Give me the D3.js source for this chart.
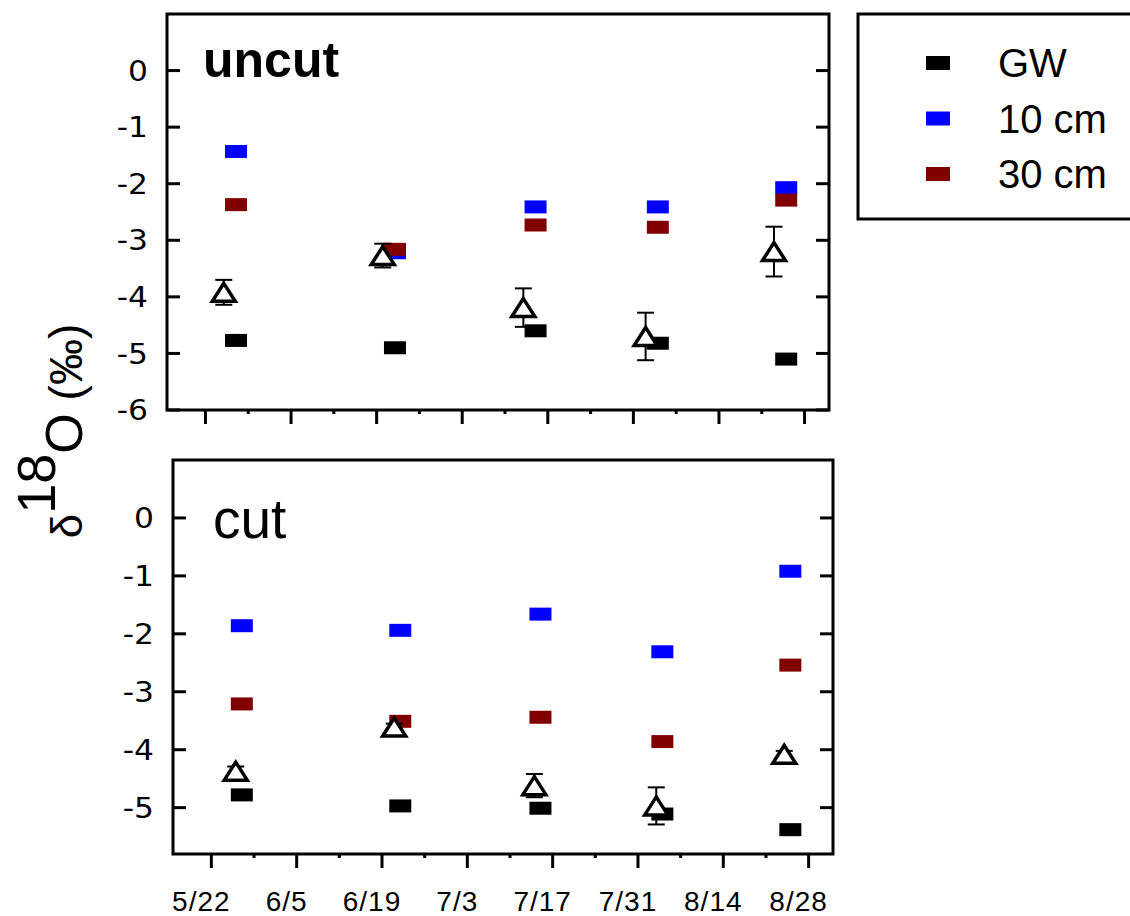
<!DOCTYPE html>
<html>
<head>
<meta charset="utf-8">
<script src="https://cdn.jsdelivr.net/npm/d3@7/dist/d3.min.js"></script>
<style>
    body { margin: 0; background: #fff; }
    svg { display: block; font-family: "Liberation Sans", Arial, sans-serif; }
</style>
</head>
<body>
<div id="viz"></div>
<script>
// sampling dates (squares = GW / soil water, triangles = plant water)
const squareDates = ["2000-05-27", "2000-06-22", "2000-07-15", "2000-08-04", "2000-08-25"];
const uncutTriDates = ["2000-05-25", "2000-06-20", "2000-07-13", "2000-08-02", "2000-08-23"];
const cutTriDates = ["2000-05-26", "2000-06-21", "2000-07-14", "2000-08-03", "2000-08-24"];

// uncut plot
const uncutGW = [-4.77, -4.90, -4.60, -4.82, -5.10];
const uncut10 = [-1.43, -3.22, -2.41, -2.41, -2.07];
const uncut30 = [-2.37, -3.16, -2.73, -2.77, -2.29];
const uncutTri = [-3.92, -3.27, -4.19, -4.70, -3.20];
const uncutTriErr = [0.22, 0.21, 0.34, 0.42, 0.44];

// cut plot
const cutGW = [-4.78, -4.97, -5.01, -5.11, -5.38];
const cut10 = [-1.86, -1.94, -1.66, -2.31, -0.92];
const cut30 = [-3.21, -3.51, -3.44, -3.86, -2.54];
const cutTri = [-4.37, -3.61, -4.62, -4.97, -4.08];
const cutTriErr = [0.08, 0.06, 0.20, 0.32, 0.06];

const yTicks = [-6, -5, -4, -3, -2, -1, 0];
const xTickDates = ["2000-05-22", "2000-06-05", "2000-06-19", "2000-07-03", "2000-07-17", "2000-07-31", "2000-08-14", "2000-08-28"];
const xTickLabels = ["5/22", "6/5", "6/19", "7/3", "7/17", "7/31", "8/14", "8/28"];
const seriesNames = ["GW", "10 cm", "30 cm"];
const seriesColors = ["#000000", "#0000ff", "#800000"];

document.addEventListener("DOMContentLoaded", () => {
    const width = 1130;
    const height = 916;
    const parse = d3.timeParse("%Y-%m-%d");

    const svg = d3.select('#viz').append('svg')
        .attr('width', width)
        .attr('height', height);

    const xTicks = xTickDates.map(parse);
    const xMinor = xTicks.map(d => d3.timeDay.offset(d, 7));
    const xDomain = [d3.timeHour.offset(xTicks[0], -151), d3.timeHour.offset(xTicks[xTicks.length - 1], 96)];

    const panels = [
        { title: "uncut", weight: "bold", size: 50, titlePos: [36, 63], box: [167, 829, 14, 410], yDomain: [-6, 1], showX: false,
          series: [uncutGW, uncut10, uncut30], tri: uncutTri, triErr: uncutTriErr, triDates: uncutTriDates },
        { title: "cut", weight: "normal", size: 55, titlePos: [40, 78], box: [173, 833, 460, 854], yDomain: [-5.8, 1], showX: true,
          series: [cutGW, cut10, cut30], tri: cutTri, triErr: cutTriErr, triDates: cutTriDates }
    ];

    const triangle = (w, h) => `M0,${-h / 2}L${w / 2},${h / 2}L${-w / 2},${h / 2}Z`;

    panels.forEach(p => {
        const [left, right, top, bottom] = p.box;
        const x = d3.scaleTime().domain(xDomain).range([left, right]);
        const y = d3.scaleLinear().domain(p.yDomain).range([bottom, top]);
        const g = svg.append('g');

        // x ticks (outward), major + minor
        g.selectAll('.xmaj').data(xTicks).enter().append('line')
            .attr('x1', d => x(d)).attr('x2', d => x(d))
            .attr('y1', bottom).attr('y2', bottom + 14)
            .attr('stroke', '#000').attr('stroke-width', 3);
        g.selectAll('.xmin').data(xMinor.filter(d => d < xDomain[1])).enter().append('line')
            .attr('x1', d => x(d)).attr('x2', d => x(d))
            .attr('y1', bottom).attr('y2', bottom + 4)
            .attr('stroke', '#000').attr('stroke-width', 3);

        if (p.showX) {
            g.selectAll('.xlab').data(xTicks).enter().append('text')
                .attr('x', d => x(d) - 10)
                .attr('y', bottom + 37)
                .attr('dy', '0.71em')
                .attr('text-anchor', 'middle')
                .attr('font-size', 28)
                .attr('letter-spacing', 1)
                .text((d, i) => xTickLabels[i]);
        }

        // y ticks (inward on both sides)
        const yt = yTicks.filter(t => t >= p.yDomain[0] && t <= p.yDomain[1]);
        g.selectAll('.yl').data(yt).enter().append('line')
            .attr('x1', left).attr('x2', left + 13)
            .attr('y1', d => y(d)).attr('y2', d => y(d))
            .attr('stroke', '#000').attr('stroke-width', 3);
        g.selectAll('.yr').data(yt).enter().append('line')
            .attr('x1', right - 13).attr('x2', right)
            .attr('y1', d => y(d)).attr('y2', d => y(d))
            .attr('stroke', '#000').attr('stroke-width', 3);
        g.selectAll('.ylab').data(yt).enter().append('text')
            .attr('transform', d => `translate(${left - 19},${y(d)}) scale(1.12,1)`)
            .attr('dy', '0.36em')
            .attr('text-anchor', 'end')
            .attr('font-family', '"DejaVu Sans", sans-serif')
            .attr('font-size', 28)
            .text(d => d);

        // frame
        g.append('rect')
            .attr('x', left).attr('y', top)
            .attr('width', right - left).attr('height', bottom - top)
            .attr('fill', 'none').attr('stroke', '#000').attr('stroke-width', 3);

        // squares
        p.series.forEach((vals, si) => {
            g.selectAll('.s' + si).data(vals).enter().append('rect')
                .attr('x', (d, i) => x(parse(squareDates[i])) - 11)
                .attr('y', d => y(d) - 6.5)
                .attr('width', 22).attr('height', 13)
                .attr('fill', seriesColors[si]);
        });

        // error bars + open triangles
        const tri = p.tri.map((v, i) => ({ date: parse(p.triDates[i]), v: v, e: p.triErr[i] }));
        const eb = g.selectAll('.eb').data(tri).enter().append('g')
            .attr('stroke', '#000').attr('stroke-width', 2);
        eb.append('line')
            .attr('x1', d => x(d.date)).attr('x2', d => x(d.date))
            .attr('y1', d => y(d.v + d.e)).attr('y2', d => y(d.v - d.e));
        eb.append('line')
            .attr('x1', d => x(d.date) - 8.5).attr('x2', d => x(d.date) + 8.5)
            .attr('y1', d => y(d.v + d.e)).attr('y2', d => y(d.v + d.e));
        eb.append('line')
            .attr('x1', d => x(d.date) - 8.5).attr('x2', d => x(d.date) + 8.5)
            .attr('y1', d => y(d.v - d.e)).attr('y2', d => y(d.v - d.e));

        g.selectAll('.tri').data(tri).enter().append('path')
            .attr('transform', d => `translate(${x(d.date)},${y(d.v)})`)
            .attr('d', triangle(23, 18))
            .attr('fill', '#fff')
            .attr('stroke', '#000')
            .attr('stroke-width', 3.5);

        // panel title
        g.append('text')
            .attr('x', left + p.titlePos[0])
            .attr('y', top + p.titlePos[1])
            .attr('font-size', p.size)
            .attr('font-weight', p.weight)
            .text(p.title);
    });

    // y axis title
    const yTitle = svg.append('text')
        .attr('transform', 'translate(82,431) rotate(-90)')
        .attr('text-anchor', 'middle')
        .attr('fill', '#000');
    yTitle.append('tspan').attr('font-size', 44).text('δ');
    yTitle.append('tspan').attr('font-size', 54).attr('dy', -27).text('18');
    yTitle.append('tspan').attr('font-size', 52).attr('dy', 27).text('O');
    yTitle.append('tspan').attr('font-size', 46).text(' (‰)');

    // legend
    const legend = svg.append('g');
    legend.append('rect')
        .attr('x', 858).attr('y', 14)
        .attr('width', 300).attr('height', 205)
        .attr('fill', 'none').attr('stroke', '#000').attr('stroke-width', 3);
    const items = legend.selectAll('.item').data(seriesNames).enter().append('g')
        .attr('transform', (d, i) => `translate(938,${63 + i * 55.5})`);
    items.append('rect')
        .attr('x', -12).attr('y', -7)
        .attr('width', 24).attr('height', 14)
        .attr('fill', (d, i) => seriesColors[i]);
    items.append('text')
        .attr('x', 60).attr('y', 14)
        .attr('font-size', 40)
        .text(d => d);
});
</script>
</body>
</html>
